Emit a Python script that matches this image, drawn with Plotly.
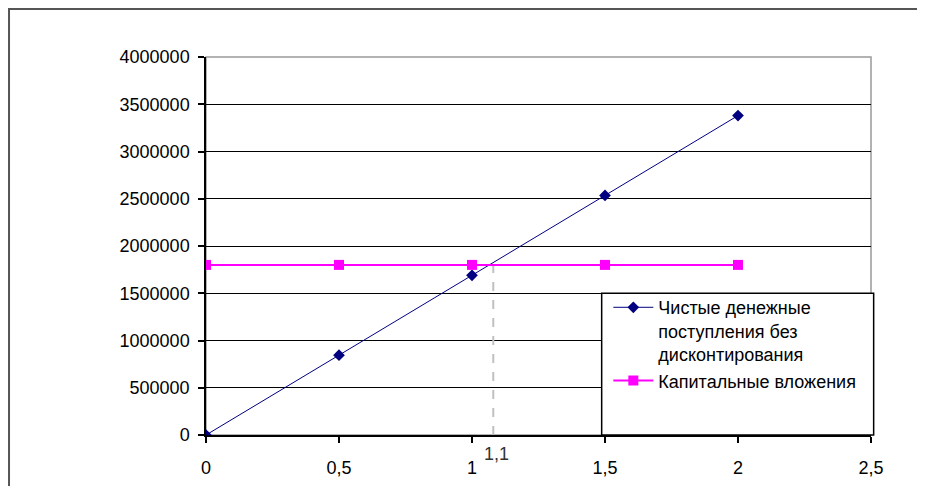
import plotly.graph_objects as go

years = [0, 0.5, 1, 1.5, 2]
net_cash = [0, 845000, 1690000, 2535000, 3380000]
capital = [1800000, 1800000, 1800000, 1800000, 1800000]
payback_x = 1.08
payback_y = 1800000
payback_label = "1,1"
x_ticks = [0, 0.5, 1, 1.5, 2, 2.5]
x_ticktext = ["0", "0,5", "1", "1,5", "2", "2,5"]
y_ticks = [0, 500000, 1000000, 1500000, 2000000, 2500000, 3000000, 3500000, 4000000]

FONT = "Liberation Sans, Arial, sans-serif"

fig = go.Figure()
fig.add_trace(go.Scatter(
    x=[payback_x, payback_x], y=[0, payback_y], mode="lines",
    line=dict(color="#c0c0c0", width=2, dash="dash"), showlegend=False, hoverinfo="skip"))
fig.add_trace(go.Scatter(
    x=years, y=net_cash, mode="lines+markers",
    name="Чистые денежные<br>поступления без<br>дисконтирования",
    line=dict(color="#000080", width=1),
    marker=dict(symbol="diamond", size=9, color="#000080")))
fig.add_trace(go.Scatter(
    x=years, y=capital, mode="lines+markers",
    name="Капитальные вложения",
    line=dict(color="#ff00ff", width=2),
    marker=dict(symbol="square", size=10, color="#ff00ff")))

fig.add_annotation(x=payback_x, y=0, yref="y", text=payback_label, showarrow=False,
                   xanchor="left", yanchor="top", xshift=-11, yshift=-7,
                   font=dict(family=FONT, size=18, color="#333333"))

# outer frame
fig.add_shape(type="rect", xref="paper", yref="paper", x0=-0.2962, x1=1.3, y0=-0.5, y1=1.127,
              line=dict(color="#555555", width=2), fillcolor="rgba(0,0,0,0)", layer="below")
# legend box
fig.add_shape(type="rect", xref="paper", yref="paper", x0=0.595, x1=1.004, y0=0.0, y1=0.375,
              line=dict(color="black", width=1.5), fillcolor="white", layer="above")

fig.update_layout(
    width=925, height=486,
    margin=dict(l=198, r=62, t=49, b=59),
    paper_bgcolor="white", plot_bgcolor="white",
    font=dict(family=FONT, size=18, color="black"),
    showlegend=True,
    legend=dict(x=0.605, y=0.386, xanchor="left", yanchor="top", valign="top",
                bgcolor="rgba(0,0,0,0)", borderwidth=0,
                font=dict(family=FONT, size=18, color="black"),
                itemwidth=40),
    xaxis=dict(range=[0, 2.5], tickvals=x_ticks, ticktext=x_ticktext,
               showgrid=False, zeroline=False, showline=True, linecolor="black", linewidth=1.5,
               ticks="outside", ticklen=6, tickcolor="black", tickwidth=1.5,
               ticklabelstandoff=10, mirror=False),
    yaxis=dict(range=[0, 4000000], tickvals=y_ticks, ticktext=[str(v) for v in y_ticks],
               showgrid=True, gridcolor="black", gridwidth=1.2, zeroline=False,
               showline=True, linecolor="black", linewidth=1.5,
               ticks="outside", ticklen=6, tickcolor="black", tickwidth=1.5,
               ticklabelstandoff=5),
)
# plot area border (top/right gray)
fig.add_shape(type="rect", xref="paper", yref="paper", x0=0, x1=1, y0=0, y1=1,
              line=dict(color="#999999", width=1.5), fillcolor="rgba(0,0,0,0)", layer="below")

fig.write_html("out.html")
